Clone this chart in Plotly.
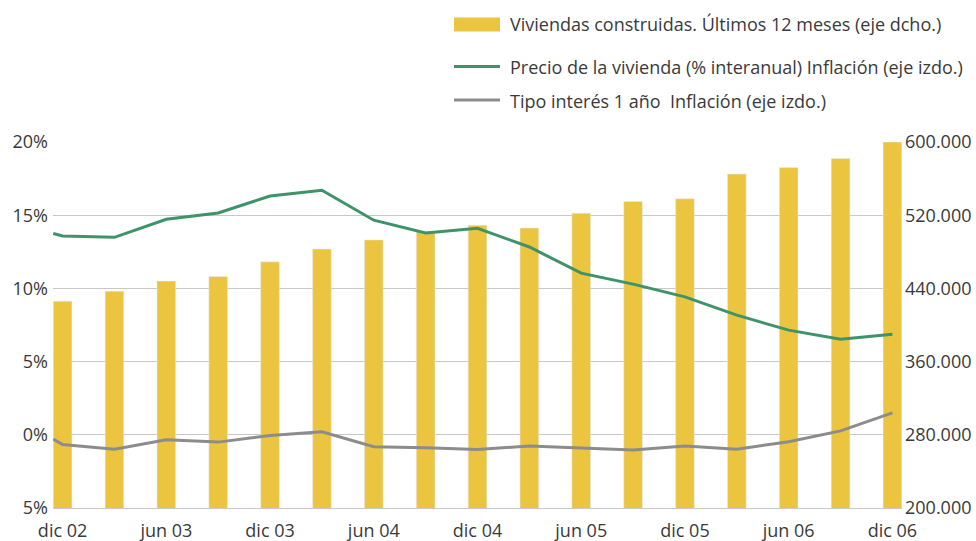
import plotly.graph_objects as go

# ---- data ----
periods = ["dic 02", "", "jun 03", "", "dic 03", "", "jun 04", "", "dic 04", "",
           "jun 05", "", "dic 05", "", "jun 06", "", "dic 06"]
viviendas = [426000, 437000, 448000, 453000, 469000, 483000, 493000, 502000, 509000,
             506000, 522000, 535000, 538000, 565000, 572000, 582000, 600000]
# line series start slightly before the first quarter (edge of the axis)
line_x = [-0.18] + list(range(17))
precio = [13.75, 13.58, 13.49, 14.72, 15.15, 16.31, 16.70, 14.66, 13.79, 14.11,
          12.83, 11.04, 10.29, 9.42, 8.17, 7.15, 6.53, 6.87]
tipo = [-0.29, -0.66, -0.98, -0.34, -0.50, -0.04, 0.21, -0.82, -0.89, -1.00,
        -0.77, -0.89, -1.04, -0.77, -0.98, -0.48, 0.27, 1.50]
left_ticks = [-5, 0, 5, 10, 15, 20]
left_labels = ["5%", "0%", "5%", "10%", "15%", "20%"]
right_ticks = [200000, 280000, 360000, 440000, 520000, 600000]

names = ["Viviendas construidas. Últimos 12 meses (eje dcho.)",
         "Precio de la vivienda (% interanual) Inflación (eje izdo.)",
         "Tipo interés 1 año  Inflación (eje izdo.)"]

BAR = "#ECC540"
GREEN = "#3E9468"
GRAY = "#8C8C8C"
TXT = "#3a3a3a"
FONT = "Open Sans"
FS = 18

x_idx = list(range(len(viviendas)))

fig = go.Figure()
fig.add_trace(go.Bar(x=x_idx, y=viviendas, name=names[0], marker_color=BAR,
                     width=0.36, yaxis="y", showlegend=False))
fig.add_trace(go.Scatter(x=line_x, y=precio, name=names[1], mode="lines",
                         line=dict(color=GREEN, width=3), yaxis="y2", showlegend=False))
fig.add_trace(go.Scatter(x=line_x, y=tipo, name=names[2], mode="lines",
                         line=dict(color=GRAY, width=3), yaxis="y2", showlegend=False))

W, H = 976, 541
L, R, T, B = 53, 74, 142, 33
pw, ph = W - L - R, H - T - B

def px(x):
    return (x - L) / pw

def py(y):
    return (H - B - y) / ph

shapes = [
    dict(type="rect", xref="paper", yref="paper", x0=px(454), x1=px(500),
         y0=py(31.5), y1=py(17.5), fillcolor=BAR, line=dict(width=0)),
    dict(type="line", xref="paper", yref="paper", x0=px(454), x1=px(500),
         y0=py(66.5), y1=py(66.5), line=dict(color=GREEN, width=3)),
    dict(type="line", xref="paper", yref="paper", x0=px(454), x1=px(500),
         y0=py(100), y1=py(100), line=dict(color=GRAY, width=3)),
]
annotations = []
for name, yy in zip(names, [24.5, 67, 101]):
    annotations.append(dict(text=name, xref="paper", yref="paper", x=px(508), y=py(yy),
                            xanchor="left", yanchor="middle", showarrow=False,
                            font=dict(family=FONT, size=FS, color=TXT)))

fig.update_layout(
    width=W, height=H,
    margin=dict(l=L, r=R, t=T, b=B, pad=0, autoexpand=False),
    paper_bgcolor="white", plot_bgcolor="white",
    separators=",.",
    font=dict(family=FONT, size=FS, color=TXT),
    xaxis=dict(range=[-0.185, 16.185], tickmode="array", tickvals=x_idx, ticktext=periods,
               showgrid=False, zeroline=False, showline=True, linecolor="#c8c8c8",
               linewidth=1, ticks="", ticklen=0, ticklabelstandoff=6,
               tickfont=dict(size=FS, color=TXT), automargin=False),
    yaxis=dict(range=[200000, 600000], side="right", tickmode="array", tickvals=right_ticks,
               tickformat=",d", showgrid=True, gridcolor="#c8c8c8", gridwidth=1,
               zeroline=False, showline=False, ticks="", ticklabelstandoff=2,
               tickfont=dict(size=FS, color=TXT), automargin=False),
    yaxis2=dict(range=[-5, 20], overlaying="y", side="left", tickmode="array",
                tickvals=left_ticks, ticktext=left_labels, showgrid=False, zeroline=False,
                showline=False, ticks="", ticklabelstandoff=4,
                tickfont=dict(size=FS, color=TXT), automargin=False),
    shapes=shapes, annotations=annotations,
)

fig.write_html("out.html", config={"displayModeBar": False},
               post_script="document.body.style.margin='0';document.body.style.overflow='hidden';")
